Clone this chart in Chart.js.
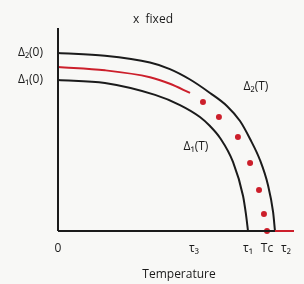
<!DOCTYPE html>
<html>
<head>
<meta charset="utf-8">
<script src="https://cdn.jsdelivr.net/npm/chart.js@4/dist/chart.umd.min.js"></script>
<style>
    html, body { margin: 0; padding: 0; background: #f8f8f6; }
    #wrap { width: 304px; height: 284px; }
</style>
</head>
<body>
<div id="wrap"><canvas id="chart"></canvas></div>
<script>
// Curves (temperature in units of tau1, gap in units of Delta1(0))
const outerT = [0, 0.247, 0.484, 0.589, 0.695, 0.800, 0.889, 0.958, 1.011, 1.063, 1.105, 1.132, 1.142];
const outerGap = [1.179, 1.160, 1.115, 1.072, 1.003, 0.914, 0.828, 0.728, 0.609, 0.470, 0.305, 0.126, 0];

const innerT = [0, 0.247, 0.511, 0.642, 0.747, 0.800, 0.853, 0.921, 0.974, 0.989, 1.0];
const innerGap = [1.0, 0.980, 0.901, 0.834, 0.755, 0.695, 0.616, 0.457, 0.232, 0.113, 0];

const redT = [0, 0.247, 0.484, 0.589, 0.695];
const redGap = [1.086, 1.064, 1.018, 0.975, 0.914];

const dotT = [0.763, 0.847, 0.947, 1.011, 1.058, 1.084, 1.100];
const dotGap = [0.854, 0.755, 0.623, 0.450, 0.272, 0.113, 0];

const xTickVals = [0, 0.716, 1.0, 1.10, 1.20];
const xTickLabels = ["0", "τ₃", "τ₁", "Tc", "τ₂"];
const yTickVals = [1.0, 1.179];
const yTickLabels = ["Δ₁(0)", "Δ₂(0)"];

const X_MAX = 1.26;
const Y_MAX = 1.344;
const AXIS_END = 1.142;
const RED_AXIS_END = 1.242;

const INK = "#1b1b1b";
const RED = "#cc1f2b";
const FONT = "'Open Sans', 'DejaVu Sans', sans-serif";

const pts = (xs, ys) => xs.map((x, i) => ({ x: x, y: ys[i] }));

// free text labels placed in data units
const notes = [
    { text: "x  fixed", x: 0.50, y: 1.397 },
    { text: "Δ₂(T)", x: 1.042, y: 0.954 },
    { text: "Δ₁(T)", x: 0.726, y: 0.556 },
    { text: "Temperature", x: 0.637, y: -0.291 }
];

const notePlugin = {
    id: "notes",
    afterDraw(chart) {
        const ctx = chart.ctx;
        const xs = chart.scales.x, ys = chart.scales.y;
        ctx.save();
        ctx.fillStyle = INK;
        ctx.font = "12px " + FONT;
        ctx.textAlign = "center";
        ctx.textBaseline = "middle";
        notes.forEach(n => {
            ctx.fillText(n.text, xs.getPixelForValue(n.x), ys.getPixelForValue(n.y));
        });
        ctx.restore();
    }
};

const lineSet = (data, color) => ({
    type: "line",
    data: data,
    borderColor: color,
    borderWidth: 2,
    pointRadius: 0,
    cubicInterpolationMode: "monotone",
    fill: false,
    clip: false
});

const straight = (data, color) => Object.assign(lineSet(data, color), { cubicInterpolationMode: "default", tension: 0 });

new Chart(document.getElementById("chart"), {
    type: "scatter",
    data: {
        datasets: [
            straight([{ x: 0, y: 0 }, { x: 0, y: Y_MAX }], INK),
            straight([{ x: 0, y: 0 }, { x: AXIS_END, y: 0 }], INK),
            straight([{ x: AXIS_END, y: 0 }, { x: RED_AXIS_END, y: 0 }], RED),
            lineSet(pts(outerT, outerGap), INK),
            lineSet(pts(innerT, innerGap), INK),
            lineSet(pts(redT, redGap), RED),
            {
                data: pts(dotT, dotGap),
                backgroundColor: RED,
                borderWidth: 0,
                pointRadius: 3,
                showLine: false,
                clip: false
            }
        ]
    },
    options: {
        responsive: true,
        maintainAspectRatio: false,
        animation: false,
        layout: { padding: { top: 28, right: 6.6, left: 0, bottom: 0 } },
        plugins: { legend: { display: false }, tooltip: { enabled: false } },
        scales: {
            x: {
                type: "linear",
                min: 0,
                max: X_MAX,
                grid: { display: false, drawTicks: false },
                border: { display: false },
                afterBuildTicks: scale => { scale.ticks = xTickVals.map(v => ({ value: v })); },
                afterFit: scale => { scale.height = 53; },
                ticks: {
                    autoSkip: false,
                    maxRotation: 0,
                    padding: 10,
                    color: INK,
                    font: { family: FONT, size: 12 },
                    callback: (v, i) => xTickLabels[i]
                }
            },
            y: {
                type: "linear",
                min: 0,
                max: Y_MAX,
                grid: { display: false, drawTicks: false },
                border: { display: false },
                afterBuildTicks: scale => { scale.ticks = yTickVals.map(v => ({ value: v })); },
                afterFit: scale => { scale.width = 58; },
                ticks: {
                    padding: 15,
                    color: INK,
                    font: { family: FONT, size: 12 },
                    callback: (v, i) => yTickLabels[i]
                }
            }
        }
    },
    plugins: [notePlugin]
});
</script>
</body>
</html>
